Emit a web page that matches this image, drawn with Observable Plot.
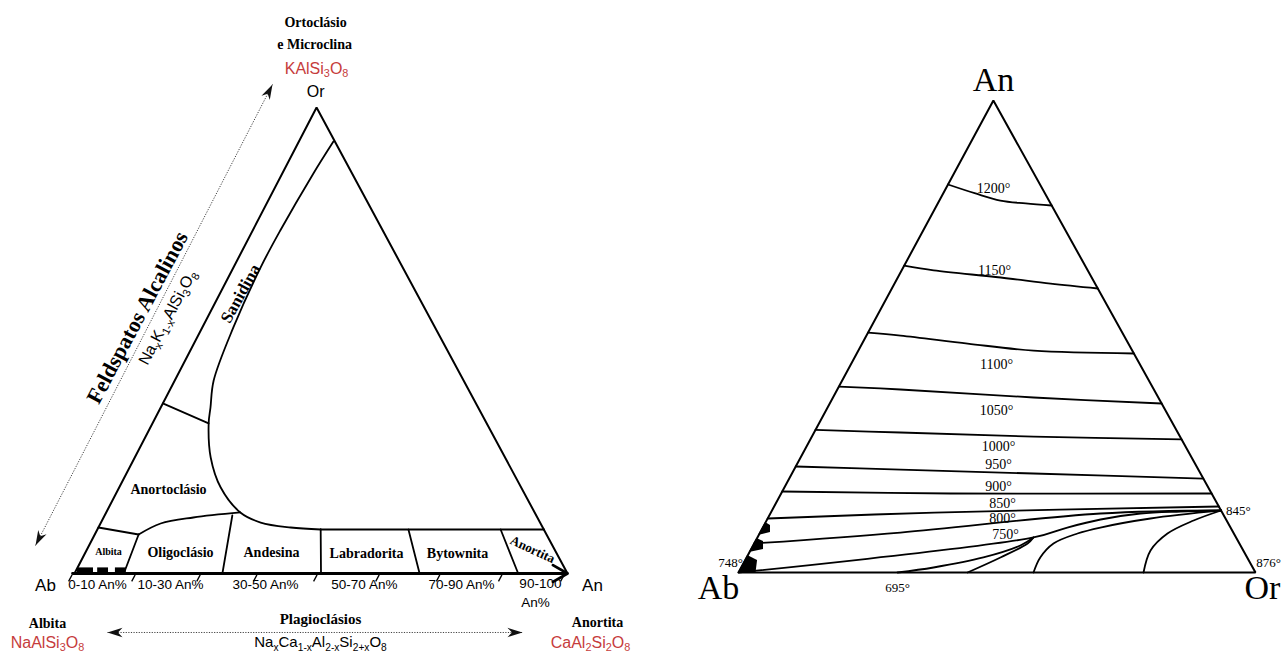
<!DOCTYPE html>
<html>
<head>
<meta charset="utf-8">
<script src="https://cdn.jsdelivr.net/npm/d3@7"></script>
<script src="https://cdn.jsdelivr.net/npm/@observablehq/plot@0.6"></script>
<style>
  html, body { margin: 0; padding: 0; background: #fff; }
  #wrap { display: flex; width: 1282px; height: 653px; overflow: hidden; }
  #wrap svg { display: block; }
</style>
</head>
<body>
<div id="wrap"></div>
<script>
// ===== Feldspar classification (Ab – An – Or), compositions as [An, Or] fractions =====
const fieldNames = ["Albita", "Oligoclásio", "Andesina", "Labradorita", "Bytownita", "Anortita"];
const rangeLabels = ["0-10 An%", "10-30 An%", "30-50 An%", "50-70 An%", "70-90 An%", "90-100"];
const plagioclaseCuts = [0.10, 0.30, 0.50, 0.70, 0.90];           // An fraction on the Ab–An join
const plagioclaseCutTops = [[0.089, 0.0837], [0.259, 0.1245], [0.453, 0.0944], [0.631, 0.0944], [0.818, 0.0944]];
const plagioclaseTop = [[0.453, 0.0944], [0.906, 0.0944]];
const solvusCurve = [
  [0.070, 0.927], [0.063, 0.858], [0.056, 0.736], [0.055, 0.657], [0.063, 0.528],
  [0.079, 0.414], [0.101, 0.356], [0.114, 0.322], [0.154, 0.249], [0.206, 0.1845],
  [0.272, 0.131], [0.324, 0.1094], [0.390, 0.0987], [0.453, 0.0944]
];
const sanidineTie = [[0, 0.365], [0.114, 0.322]];
const anorthoclaseBase = [[0.089, 0.0837], [0.122, 0.1073], [0.182, 0.1202], [0.272, 0.131]];
const albiteTop = [[0, 0.0987], [0.089, 0.0837]];
const albiteBlocks = [[0.006, 0.0385], [0.047, 0.069], [0.083, 0.105]];
const baseTicks = [-0.008, 0.12, 0.252, 0.367, 0.489, 0.615, 0.738, 0.864, 0.99];

// ===== Ternary solidus Ab – An – Or, compositions as [An, Or] fractions =====
const isothermTemps = ["1200°", "1150°", "1100°", "1050°", "1000°", "950°", "900°", "850°", "800°", "750°"];
const isothermPaths = [
  [[0.822, 0], [0.803, 0.0625], [0.788, 0.118], [0.782, 0.170], [0.7775, 0.2225]],
  [[0.650, 0], [0.640, 0.062], [0.625, 0.199], [0.612, 0.302], [0.6017, 0.3983]],
  [[0.508, 0], [0.502, 0.066], [0.485, 0.204], [0.470, 0.339], [0.464, 0.536]],
  [[0.394, 0], [0.3877, 0.122], [0.3708, 0.388], [0.358, 0.642]],
  [[0.302, 0], [0.2966, 0.167], [0.288, 0.429], [0.282, 0.718]],
  [[0.2246, 0], [0.218, 0.206], [0.2097, 0.467], [0.199, 0.801]],
  [[0.1716, 0], [0.1674, 0.3275], [0.1674, 0.8326]],
  [[0.1144, 0], [0.127, 0.316], [0.1398, 0.8602]],
  [[0.0614, 0], [0.0847, 0.2715], [0.125, 0.6386], [0.1314, 0.8686]],
  [[0, 0], [0.0742, 0.534], [0.0953, 0.589], [0.1123, 0.645], [0.125, 0.716], [0.1292, 0.791], [0.1314, 0.8686]]
];
const lowCurves = [
  [[0, 0.3075], [0.0106, 0.372], [0.0318, 0.458], [0.0572, 0.517], [0.0742, 0.534]],
  [[0, 0.443], [0.0318, 0.491], [0.0614, 0.529], [0.0742, 0.534]],
  [[0, 0.5706], [0.0318, 0.568], [0.0614, 0.579], [0.0826, 0.615], [0.0953, 0.653], [0.1144, 0.7405], [0.1314, 0.8686]],
  [[0, 0.7834], [0.0466, 0.774], [0.0826, 0.789], [0.1102, 0.826], [0.1314, 0.8686]]
];
// crystallisation steps along the Ab–An side: [An, width in Or]
const abSteps = [
  [[0, 0.034], [0.0254, 0.0243], [0.036, 0]],
  [[0.0424, 0], [0.0487, 0.0244], [0.0657, 0.016], [0.072, 0]],
  [[0.0784, 0], [0.0847, 0.0201], [0.0996, 0.0128], [0.106, 0]]
];
const pointTemps = ["845°", "876°", "748°", "695°"];

// ===== frames =====
const SERIF = "'Liberation Serif', 'Times New Roman', serif";
const SANS = "'Liberation Sans', Arial, sans-serif";
const RED = "#c63c3c";
const L = {apex: 0.491, pxX: 493, pxY: 466, x0: 74, y0: 573, w: 640, h: 653};
const R = {apex: 0.493, pxX: 517, pxY: 472, x0: 98, y0: 572, w: 642, h: 653};
const Lxy = ([an, or]) => ({x: an + L.apex * or, y: or});
const Rxy = ([an, or]) => ({x: or + R.apex * an, y: an});
const rows = (paths, f) => paths.flatMap((pts, g) => pts.map(p => ({...f(p), g})));
const frameScales = (F) => ({
  x: {domain: [-F.x0 / F.pxX, (F.w - F.x0) / F.pxX], axis: null},
  y: {domain: [-(F.h - F.y0) / F.pxY, F.y0 / F.pxY], axis: null}
});

// filled "stealth" arrowhead, tip at the origin, pointing up
const stealth = {
  draw(ctx, size) {
    const r = Math.sqrt(size / Math.PI);
    ctx.moveTo(0, 0);
    ctx.lineTo(0.62 * r, 2 * r);
    ctx.lineTo(0, 1.4 * r);
    ctx.lineTo(-0.62 * r, 2 * r);
    ctx.closePath();
  }
};
function dottedArrow(a, b, F) {
  const ang = Math.atan2((b[0] - a[0]) * F.pxX, (b[1] - a[1]) * F.pxY) * 180 / Math.PI;
  return [
    Plot.link([{a, b}], {x1: d => d.a[0], y1: d => d.a[1], x2: d => d.b[0], y2: d => d.b[1],
      stroke: "#444", strokeWidth: 1, strokeDasharray: "1.2 1.4"}),
    Plot.dot([{p: b, r: ang}, {p: a, r: ang + 180}], {x: d => d.p[0], y: d => d.p[1], rotate: "r",
      symbol: stealth, r: 7.5, fill: "#111", stroke: "none"})
  ];
}
function labelMarks(labels) {
  return labels.map(l => Plot.text([l], {
    x: "x", y: "y", text: "text", textAnchor: l.anchor ?? "middle",
    fontSize: l.size, rotate: l.rotate ?? 0,
    fontWeight: l.bold ? "bold" : "normal",
    fontFamily: l.serif ? SERIF : SANS,
    fill: l.red ? RED : "black",
    ...(l.chem ? {className: "chem"} : {})
  }));
}
// turn "_{..}" runs into subscript tspans
function chemify(svg) {
  d3.select(svg).selectAll(".chem text").each(function () {
    const src = this.textContent;
    const fs = parseFloat(getComputedStyle(this).fontSize) || 16;
    const parts = [];
    src.replace(/([^_]+)|_\{([^}]*)\}/g, (m, plain, sub) => {
      parts.push(plain !== undefined ? {s: plain, sub: false} : {s: sub, sub: true});
    });
    this.textContent = "";
    const t = d3.select(this);
    let down = false;
    for (const p of parts) {
      const ts = t.append("tspan").text(p.s);
      if (p.sub) {
        ts.attr("font-size", 0.68 * fs);
        if (!down) { ts.attr("dy", 0.24 * fs); down = true; }
      } else if (down) {
        ts.attr("dy", -0.24 * fs); down = false;
      }
    }
  });
}

// ---------- left: classification diagram ----------
const leftLabels = [
  {text: "Ortoclásio", x: 0.489, y: 1.1824, size: 14, bold: true, serif: true},
  {text: "e Microclina", x: 0.487, y: 1.1352, size: 14, bold: true, serif: true},
  {text: "KAlSi_{3}O_{8}", x: 0.491, y: 1.0837, size: 16, red: true, chem: true},
  {text: "Or", x: 0.489, y: 1.0343, size: 16},
  {text: "Feldspatos Alcalinos", x: 0.1278, y: 0.5494, size: 22, bold: true, serif: true, rotate: -62},
  {text: "Na_{x}K_{1-x}AlSi_{3}O_{8}", x: 0.1886, y: 0.5494, size: 16, rotate: -62, chem: true},
  {text: "Sanidina", x: 0.3367, y: 0.6009, size: 17, bold: true, serif: true, rotate: -61},
  {text: "Anortoclásio", x: 0.1907, y: 0.1803, size: 14, bold: true, serif: true},
  {text: fieldNames[0], x: 0.069, y: 0.0472, size: 10, bold: true, serif: true},
  {text: fieldNames[1], x: 0.215, y: 0.045, size: 14, bold: true, serif: true},
  {text: fieldNames[2], x: 0.3996, y: 0.045, size: 14, bold: true, serif: true},
  {text: fieldNames[3], x: 0.5923, y: 0.043, size: 14, bold: true, serif: true},
  {text: fieldNames[4], x: 0.7769, y: 0.043, size: 14, bold: true, serif: true},
  {text: fieldNames[5], x: 0.929, y: 0.0515, size: 13, bold: true, serif: true, rotate: 25},
  {text: "Ab", x: -0.0588, y: -0.0258, size: 17},
  {text: "An", x: 1.0507, y: -0.0258, size: 17},
  {text: rangeLabels[0], x: 0.0467, y: -0.0236, size: 13.5},
  {text: rangeLabels[1], x: 0.1947, y: -0.0236, size: 13.5},
  {text: rangeLabels[2], x: 0.3874, y: -0.0236, size: 13.5},
  {text: rangeLabels[3], x: 0.588, y: -0.0236, size: 13.5},
  {text: rangeLabels[4], x: 0.785, y: -0.0236, size: 13.5},
  {text: rangeLabels[5], x: 0.945, y: -0.0215, size: 13.5},
  {text: "An%", x: 0.935, y: -0.0622, size: 13.5},
  {text: "Albita", x: -0.0548, y: -0.1073, size: 14, bold: true, serif: true},
  {text: "NaAlSi_{3}O_{8}", x: -0.0548, y: -0.1480, size: 16, red: true, chem: true},
  {text: "Plagioclásios", x: 0.499, y: -0.0987, size: 15, bold: true, serif: true},
  {text: "Na_{x}Ca_{1-x}Al_{2-x}Si_{2+x}O_{8}", x: 0.499, y: -0.1480, size: 15, chem: true},
  {text: "Anortita", x: 1.0609, y: -0.1052, size: 14, bold: true, serif: true},
  {text: "CaAl_{2}Si_{2}O_{8}", x: 1.0467, y: -0.1480, size: 16, red: true, chem: true}
];

const left = Plot.plot({
  width: L.w, height: L.h, margin: 0,
  ...frameScales(L),
  style: {background: "white", overflow: "visible"},
  marks: [
    Plot.line([[1, 0], [0, 1], [0, 0]].map(Lxy), {x: "x", y: "y", stroke: "black", strokeWidth: 2, strokeLinejoin: "miter"}),
    Plot.arrow([{a: Lxy([0, 0]), b: Lxy([1, 0])}], {x1: d => d.a.x - 0.004, y1: d => d.a.y, x2: d => d.b.x, y2: d => d.b.y,
      stroke: "black", strokeWidth: 2.8, headLength: 9}),
    Plot.line(rows([solvusCurve], Lxy), {x: "x", y: "y", z: "g", curve: "catmull-rom", stroke: "black", strokeWidth: 1.8}),
    Plot.line(rows([plagioclaseTop, sanidineTie, albiteTop], Lxy), {x: "x", y: "y", z: "g", stroke: "black", strokeWidth: 1.8}),
    Plot.line(rows([anorthoclaseBase], Lxy), {x: "x", y: "y", z: "g", curve: "catmull-rom", stroke: "black", strokeWidth: 1.8}),
    Plot.line(rows(plagioclaseCuts.map((c, i) => [plagioclaseCutTops[i], [c, 0]]), Lxy), {x: "x", y: "y", z: "g", stroke: "black", strokeWidth: 1.8}),
    Plot.rect(albiteBlocks, {x1: d => d[0], x2: d => d[1], y1: 0, y2: 0.012, fill: "black"}),
    Plot.link(baseTicks, {x1: d => d - 0.004, y1: -0.017, x2: d => d + 0.003, y2: -0.003, stroke: "black", strokeWidth: 1.3}),
    ...dottedArrow([-0.0791, 0.0601], [0.4016, 1.0494], L),
    ...dottedArrow([0.0669, -0.1266], [0.9087, -0.1266], L),
    ...labelMarks(leftLabels)
  ]
});

// ---------- right: ternary solidus ----------
const rightLabels = [
  {text: "An", x: 0.4932, y: 1.0424, size: 34, serif: true},
  {text: "Ab", x: -0.0387, y: -0.0339, size: 34, serif: true},
  {text: "Or", x: 1.0135, y: -0.0339, size: 34, serif: true},
  {text: isothermTemps[0], x: 0.4932, y: 0.8136, size: 14, serif: true},
  {text: isothermTemps[1], x: 0.4952, y: 0.6398, size: 14, serif: true},
  {text: isothermTemps[2], x: 0.499, y: 0.4407, size: 14, serif: true},
  {text: isothermTemps[3], x: 0.499, y: 0.3432, size: 14, serif: true},
  {text: isothermTemps[4], x: 0.5029, y: 0.2669, size: 14, serif: true},
  {text: isothermTemps[5], x: 0.5029, y: 0.2288, size: 14, serif: true},
  {text: isothermTemps[6], x: 0.5029, y: 0.1822, size: 14, serif: true},
  {text: isothermTemps[7], x: 0.5106, y: 0.1462, size: 14, serif: true},
  {text: isothermTemps[8], x: 0.5106, y: 0.1144, size: 14, serif: true},
  {text: isothermTemps[9], x: 0.5164, y: 0.0805, size: 14, serif: true},
  {text: pointTemps[0], x: 0.967, y: 0.1314, size: 13, serif: true},
  {text: pointTemps[1], x: 1.0251, y: 0.0212, size: 13, serif: true},
  {text: pointTemps[2], x: -0.0155, y: 0.0212, size: 13, serif: true},
  {text: pointTemps[3], x: 0.3075, y: -0.0318, size: 13, serif: true}
];

const right = Plot.plot({
  width: R.w, height: R.h, margin: 0,
  ...frameScales(R),
  style: {background: "white", overflow: "visible"},
  marks: [
    Plot.line([[0, 0], [0, 1], [1, 0], [0, 0]].map(Rxy), {x: "x", y: "y", stroke: "black", strokeWidth: 2, strokeLinejoin: "miter"}),
    Plot.line(rows(isothermPaths, Rxy), {x: "x", y: "y", z: "g", curve: "catmull-rom", stroke: "black", strokeWidth: 1.8}),
    Plot.line(rows(lowCurves, Rxy), {x: "x", y: "y", z: "g", curve: "catmull-rom", stroke: "black", strokeWidth: 1.8}),
    Plot.areaX(abSteps.flatMap((s, g) => s.map(([an, w]) => ({y: an, x1: R.apex * an, x2: R.apex * an + w, g}))),
      {y: "y", x1: "x1", x2: "x2", z: "g", fill: "black"}),
    ...labelMarks(rightLabels)
  ]
});

const wrap = document.getElementById("wrap");
wrap.append(left, right);
chemify(left);
chemify(right);
</script>
</body>
</html>
